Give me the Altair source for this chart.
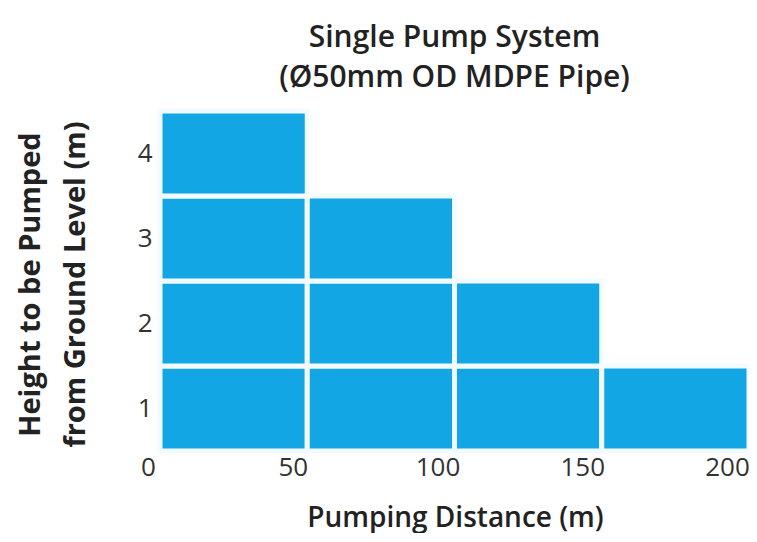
import altair as alt
import pandas as pd

# Data
col_start = [0, 50, 100, 150]
col_end = [50, 100, 150, 200]
max_height = [4, 3, 2, 1]
x_ticks = [0, 50, 100, 150, 200]
y_ticks = [1, 2, 3, 4]

rows = []
for s, e, h in zip(col_start, col_end, max_height):
    for lvl in range(1, h + 1):
        rows.append({"d0": s, "d1": e, "h0": lvl - 0.5, "h1": lvl + 0.5})
df = pd.DataFrame(rows)
tick_df = pd.DataFrame({"t": x_ticks})

FONT = "Open Sans"

rects = alt.Chart(df).mark_rect(
    color="#12A6E4", stroke="#F2FBFF", strokeWidth=5
).encode(
    x=alt.X("d0:Q", scale=alt.Scale(domain=[0, 200], nice=False, zero=False), axis=None),
    x2="d1:Q",
    y=alt.Y("h0:Q", scale=alt.Scale(domain=[0.5, 4.5], nice=False, zero=False),
            axis=alt.Axis(values=y_ticks, title=["Height to be Pumped", "from Ground Level (m)"],
                          grid=False, domain=False, ticks=False, labelPadding=8,
                          labelFontSize=26, labelColor="#333333", labelFont=FONT,
                          titleFont=FONT, titleFontSize=29, titleFontWeight=700,
                          titleColor="#222222", titleX=-130, titleY=173,
                          titleAngle=-90, titleAlign="center", titleBaseline="middle",
                          titleLineHeight=45)),
    y2="h1:Q",
)

axis_layer = alt.Chart(tick_df).mark_point(opacity=0).encode(
    x=alt.X("t:Q", scale=alt.Scale(domain=[0, 200], range=[-12, 567], nice=False, zero=False),
            axis=alt.Axis(values=x_ticks, title="Pumping Distance (m)", grid=False,
                          domain=False, ticks=False, labelPadding=3, labelFlush=False,
                          labelFontSize=26, labelColor="#333333", labelFont=FONT,
                          titleFont=FONT, titleFontSize=28, titleFontWeight=600,
                          titleColor="#222222", titleX=295, titleY=75,
                          titleBaseline="alphabetic")),
)

chart = alt.layer(rects, axis_layer).resolve_scale(x="independent").properties(
    width=589,
    height=340,
    title=alt.TitleParams(
        text=["Single Pump System", "(Ø50mm OD MDPE Pipe)"],
        font=FONT, fontSize=30, fontWeight=600, color="#222222",
        anchor="middle", lineHeight=40, offset=16,
    ),
    padding={"left": 152, "top": 103, "right": 0, "bottom": 82},
    autosize=alt.AutoSizeParams(type="none"),
).configure_view(stroke=None)

chart.save("out.html", embed_options={"renderer": "svg", "actions": False})
